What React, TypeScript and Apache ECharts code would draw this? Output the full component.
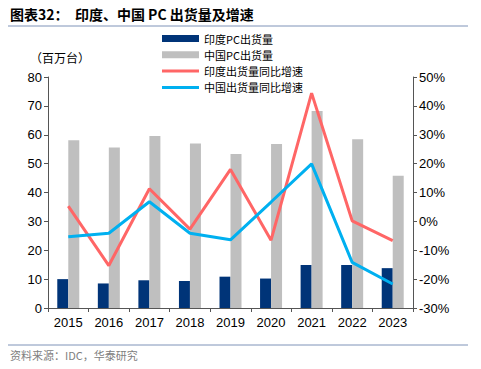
import React, { useEffect, useRef } from "react";
import * as echarts from "echarts";

const years = ["2015", "2016", "2017", "2018", "2019", "2020", "2021", "2022", "2023"];
const indiaShip = [10.0, 8.5, 9.6, 9.35, 10.85, 10.2, 14.9, 14.9, 13.8];
const chinaShip = [58.1, 55.6, 59.6, 57.0, 53.3, 56.8, 68.2, 58.4, 45.8];
const indiaGrowth = [5.3, -15.3, 11.3, -2.7, 18.0, -6.5, 44.4, 0.2, -6.7];
const chinaGrowth = [-5.3, -4.1, 6.8, -4.1, -6.4, 6.7, 19.9, -14.2, -21.7];

const names = ["印度PC出货量", "中国PC出货量", "印度出货量同比增速", "中国出货量同比增速"];

export default function App() {
  const ref = useRef<HTMLDivElement>(null);
  useEffect(() => {
    const chart = echarts.init(ref.current!, null, { renderer: "svg" });
    const axisFont = { fontFamily: "Liberation Sans, Arial, sans-serif", fontSize: 13, color: "#000" };
    const lineIcon = "path://M0,0L37,0L37,3L0,3Z";
    chart.setOption({
      animation: false,
      backgroundColor: "#fff",
      grid: { left: 48, right: 68, top: 77, bottom: 61, containLabel: false },
      legend: {
        orient: "vertical",
        left: 162,
        top: 32,
        padding: 0,
        itemWidth: 37,
        itemHeight: 7,
        itemGap: 3.3,
        symbolKeepAspect: true,
        textStyle: { fontFamily: "Noto Sans CJK SC", fontSize: 11, lineHeight: 13, color: "#000" },
        data: [
          { name: names[0], icon: "rect" },
          { name: names[1], icon: "rect" },
          { name: names[2], icon: lineIcon },
          { name: names[3], icon: lineIcon },
        ],
      },
      xAxis: {
        type: "category",
        data: years,
        axisLine: { lineStyle: { color: "#555", width: 1 } },
        axisTick: { show: true, length: 4, lineStyle: { color: "#555" } },
        axisLabel: { ...axisFont, margin: 8 },
      },
      yAxis: [
        {
          type: "value",
          min: 0,
          max: 80,
          interval: 10,
          axisLine: { show: true, lineStyle: { color: "#555" } },
          axisTick: { show: true, length: 4, lineStyle: { color: "#555" } },
          splitLine: { show: false },
          axisLabel: { ...axisFont, margin: 6 },
        },
        {
          type: "value",
          min: -30,
          max: 50,
          interval: 10,
          position: "right",
          axisLine: { show: true, lineStyle: { color: "#555" } },
          axisTick: { show: true, length: 4, lineStyle: { color: "#555" } },
          splitLine: { show: false },
          axisLabel: { ...axisFont, margin: 6, formatter: "{value}%" },
        },
      ],
      series: [
        {
          name: names[0],
          type: "bar",
          data: indiaShip,
          barWidth: 11,
          barGap: "0%",
          itemStyle: { color: "#003478" },
        },
        {
          name: names[1],
          type: "bar",
          data: chinaShip,
          barWidth: 11,
          barGap: "0%",
          itemStyle: { color: "#BFBFBF" },
        },
        {
          name: names[2],
          type: "line",
          yAxisIndex: 1,
          data: indiaGrowth,
          symbol: "none",
          lineStyle: { color: "#FF6666", width: 3 },
          itemStyle: { color: "#FF6666" },
        },
        {
          name: names[3],
          type: "line",
          yAxisIndex: 1,
          data: chinaGrowth,
          symbol: "none",
          lineStyle: { color: "#00B0F0", width: 3 },
          itemStyle: { color: "#00B0F0" },
        },
      ],
      graphic: [
        {
          type: "text",
          left: 10,
          top: 7,
          style: {
            text: "图表32：  印度、中国 PC 出货量及增速",
            fontFamily: "Noto Sans CJK SC",
            fontSize: 14,
            fontWeight: "bold",
            fill: "#000",
          },
        },
        {
          type: "line",
          shape: { x1: 8, y1: 26, x2: 468, y2: 26 },
          style: { stroke: "#7F93B8", lineWidth: 1 },
        },
        {
          type: "text",
          left: 30,
          top: 51,
          style: {
            text: "（百万台）",
            fontFamily: "Noto Sans CJK SC",
            fontSize: 12,
            fill: "#000",
          },
        },
        {
          type: "line",
          shape: { x1: 8, y1: 345, x2: 468, y2: 345 },
          style: { stroke: "#7F93B8", lineWidth: 1 },
        },
        {
          type: "text",
          left: 10,
          top: 349,
          style: {
            text: "资料来源：IDC，华泰研究",
            fontFamily: "Noto Sans CJK SC",
            fontSize: 11,
            fill: "#808080",
          },
        },
      ],
    });
    return () => chart.dispose();
  }, []);
  return <div ref={ref} style={{ width: 481, height: 369, position: "absolute", left: 0, top: 0 }} />;
}
